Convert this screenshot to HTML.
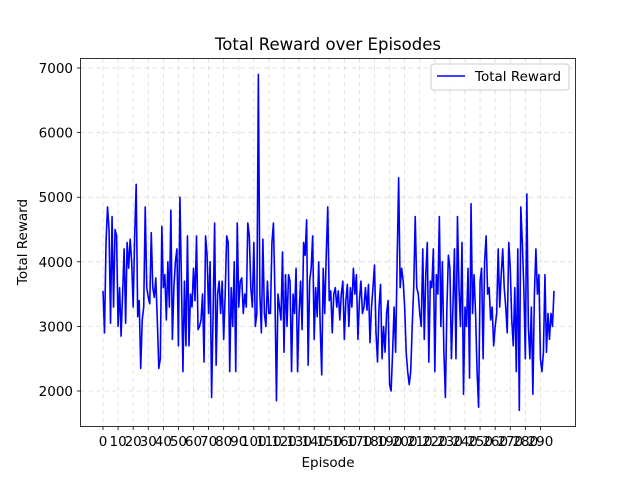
<!DOCTYPE html>
<html><head><meta charset="utf-8"><style>
body{margin:0;background:#fff}
svg text{font-family:"DejaVu Sans","Liberation Sans",sans-serif;fill:#000}
</style></head><body>
<svg id="chart" width="640" height="480" xmlns="http://www.w3.org/2000/svg">
<rect width="640" height="480" fill="#fff"/>
<text x="328" y="50" font-size="16.5" text-anchor="middle">Total Reward over Episodes</text>
<g id="grid"></g>
<g id="ticks"></g>
<polyline id="line" fill="none" stroke="#0000ff" stroke-width="1.6" stroke-linejoin="round"/>
<rect x="80.5" y="58.5" width="495" height="368" fill="none" stroke="#000" stroke-width="0.8"/>
<text x="328" y="467" font-size="13.5" text-anchor="middle">Episode</text>
<text transform="translate(27,242) rotate(-90)" font-size="13.5" text-anchor="middle">Total Reward</text>
<g>
<rect x="431" y="64" width="138" height="26" rx="3" fill="#fff" fill-opacity="0.8" stroke="#ccc"/>
<line x1="437" y1="76" x2="465" y2="76" stroke="#0000ff" stroke-width="1.6"/>
<text x="475" y="81" font-size="13.5">Total Reward</text>
</g>
</svg>
<script>
const rewards = [3550,2900,4300,4850,4500,3050,4700,3300,4500,4400,3000,3600,2850,3500,4200,3050,4300,3900,4350,4000,3300,4400,5200,
3150,3400,2350,3100,3300,4850,3600,3450,3350,4450,3600,3450,3750,3100,2350,2500,4550,3600,3800,3100,4000,3300,4800,2800,3600,4000,4200,2700,5000,3700,2300,3700,2700,4400,2700,3500,3300,3900,3400,4400,2950,3000,3100,3500,2450,4400,4100,3200,4000,1900,
3200,4600,2400,3500,3700,3200,3700,2800,3500,4400,4300,2300,3600,3000,4000,2300,4600,3300,3700,3750,3200,3500,3300,4600,4400,3600,3300,4300,3000,3200,6900,
3500,2900,4350,3200,3000,3700,3200,3200,4300,4600,3500,1850,
3500,3300,3100,4150,2600,3800,3000,3800,3700,2300,3500,3200,3900,2300,3200,3700,2950,4300,4100,4650,2400,3700,3900,4400,2800,3600,3150,4000,3000,2250,3900,3200,4100,4850,3400,3550,2900,3500,3600,3300,3550,3100,3500,3700,2800,3400,3650,3000,3600,3300,3900,3500,3800,2800,3400,3700,3200,3300,3600,3250,3650,2750,3300,3600,3950,2900,2450,3300,3650,2500,3000,2600,3200,3400,2100,2000,
2600,3300,2600,4000,5300,
3600,3900,3700,3300,2600,2300,2100,2300,3000,3600,4700,3600,3500,3200,3000,4200,2800,3800,4300,2450,3700,3600,4200,2300,3800,3500,4700,3000,4000,2600,1900,
3300,4100,3900,2500,3300,4200,2500,4700,3600,3000,4300,1950,3300,3000,3900,2200,4900,3200,3800,3200,2300,1750,
3700,3900,2500,4000,4400,3500,3600,3100,3300,2700,3000,3200,4200,3300,3800,4200,3600,3300,2900,4300,3900,3100,2700,3600,2300,4200,1700,
4850,4300,3600,2500,5050,3000,2500,3300,1950,3500,4200,3500,3800,2500,2300,2600,3800,2600,3200,2800,3200,3000,3550];
const yTicks = [2000,3000,4000,5000,6000,7000];
const xTicks = [0,10,20,30,40,50,60,70,80,90,100,110,120,130,140,150,160,170,180,190,200,210,220,230,240,250,260,270,280,290];
const NS="http://www.w3.org/2000/svg";
const n = rewards.length;
function xs(i){return 103 + i*(451/(n-1));}
function ys(v){return 391 - (v-2000)*(323/5000);}
const grid=document.getElementById('grid'), ticks=document.getElementById('ticks');
function mk(tag,attrs,parent){const e=document.createElementNS(NS,tag);for(const k in attrs)e.setAttribute(k,attrs[k]);parent.appendChild(e);return e;}
yTicks.forEach(v=>{
  const y=ys(v);
  const g=mk('line',{x1:80.5,x2:575.5,y1:y,y2:y,stroke:'#b0b0b0','stroke-opacity':0.5,'stroke-dasharray':'4,4','stroke-width':0.8},grid);
  
  
  mk('line',{x1:77,x2:80.5,y1:y,y2:y,stroke:'#000','stroke-width':0.8},ticks);
  const t=mk('text',{x:73,y:y+5,'font-size':13.5,'text-anchor':'end'},ticks);
  t.textContent=v;
  
  
});
xTicks.forEach(v=>{
  const x=xs(v);
  const g=mk('line',{x1:x,x2:x,y1:58.5,y2:426.5,stroke:'#b0b0b0','stroke-opacity':0.5,'stroke-dasharray':'4,4','stroke-width':0.8},grid);
  
  
  mk('line',{x1:x,x2:x,y1:426.5,y2:430,stroke:'#000','stroke-width':0.8},ticks);
  const t=mk('text',{x:x,y:446,'font-size':13.5,'text-anchor':'middle'},ticks);
  t.textContent=v;
  
  
});
document.getElementById('line').setAttribute('points',rewards.map((v,i)=>xs(i).toFixed(2)+','+ys(v).toFixed(2)).join(' '));
</script>
</body></html>
